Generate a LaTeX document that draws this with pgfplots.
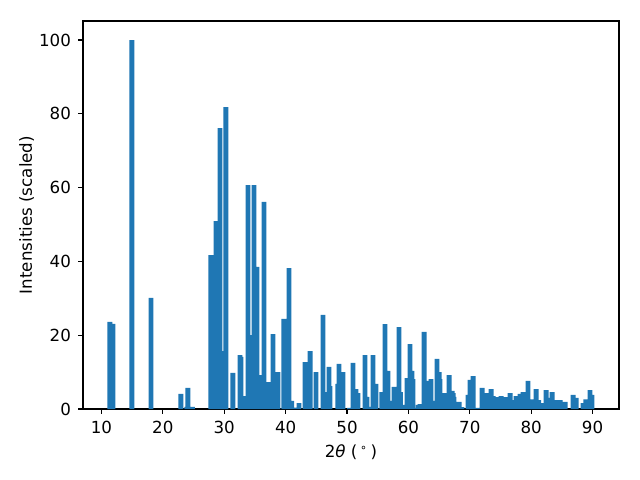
\documentclass[border=0pt]{standalone}
\usepackage{fontspec}
\setmainfont{DejaVu Sans}
\usepackage{pgfplots}
\pgfplotsset{compat=1.18}
\definecolor{tabblue}{HTML}{1F77B4}
\begin{document}
\fontsize{12}{14}\selectfont
\begin{tikzpicture}
\useasboundingbox (-59.76pt,-51.12pt) rectangle (401.04pt,294.48pt);
\begin{axis}[
  scale only axis,
  width=385.92pt, height=279.36pt,
  xmin=7.0, xmax=94.3, ymin=0, ymax=105.15,
  xtick={10,20,...,90}, ytick={0,20,...,100},
  tick pos=left, tick align=outside,
  major tick length=3.5pt,
  every tick/.style={black, line width=0.8pt},
  axis line style={line width=0.8pt},
  tick label style={font=\fontsize{12}{14}\selectfont},
  label style={font=\fontsize{12}{14}\selectfont},
  /pgf/number format/assume math mode=true,
  xlabel={2\textit{θ} (\,\textsuperscript{∘}\,)},
  ylabel={Intensities (scaled)},
  ylabel shift=-4.5pt,
  xticklabel style={yshift=-1pt},
  yticklabel style={xshift=-1pt},
]
\addplot[ybar, bar width=0.8, bar shift=0pt, fill=tabblue, draw=none] coordinates {
(11.38,23.6) (11.88,23.1) (14.97,100) (18.07,30.1) (22.95,4.1) (23.9,0.6) (24.09,5.7) (24.83,0.6)
(27.84,41.7) (28.66,50.9) (29.31,76.1) (29.7,15.7) (30.28,81.8) (31.42,9.8) (32.57,14.6) (32.73,14.1)
(33.2,3.5) (33.87,60.7) (34.3,20.0) (34.85,60.7) (35.34,38.5) (35.9,9.2) (36.48,56.1) (37.13,7.3)
(37.94,20.3) (38.76,10.0) (39.73,24.4) (40.55,38.2) (41.0,2.2) (41.5,0.4) (42.18,1.6)
(43.16,12.7) (43.5,8.9) (44.0,15.7) (44.95,10.0) (46.09,25.5) (46.6,4.6) (47.07,11.4) (47.23,6.2)
(48.5,6.8) (48.70,12.2) (49.33,10.0) (50.4,0.3) (50.98,12.5) (51.47,5.4) (51.79,4.3)
(52.93,14.6) (53.26,3.3) (53.4,0.6) (54.24,14.6) (54.72,6.8) (55.69,4.6) (56.19,23.0) (56.68,10.3)
(56.9,2.2) (57.66,6.0) (58.47,22.2) (58.7,4.6) (58.96,1.1) (59.78,8.4) (60.26,17.6) (60.59,10.3)
(60.75,8.1) (61.3,0.3) (61.6,1.1) (61.9,1.3) (62.55,20.9) (63.1,7.6) (63.68,8.1) (63.95,2.2)
(64.66,13.6) (64.99,10.0) (65.15,8.1) (65.81,4.3) (66.62,9.2) (67.11,4.9) (67.27,4.3) (67.43,3.3)
(68.25,1.9) (68.7,0.5) (69.7,3.8) (70.04,7.9) (70.53,8.9) (71.2,0.3) (72.0,5.7) (72.65,4.3)
(73.46,5.4) (73.79,3.5) (74.28,3.2) (75.09,3.5) (75.25,2.7) (75.74,3.2) (76.56,4.3) (76.72,2.4)
(77.54,3.5) (78.19,4.1) (78.67,4.6) (79.48,7.6) (79.98,2.6) (80.79,5.4) (81.2,2.4) (81.6,1.6)
(82.43,5.1) (82.8,3.0) (83.40,4.6) (84.22,2.4) (84.7,2.4) (85.52,1.9) (86.82,3.8) (87.31,3.0)
(88.45,1.6) (88.9,2.6) (89.58,5.1) (89.9,3.8)
};
\end{axis}
\end{tikzpicture}
\end{document}
